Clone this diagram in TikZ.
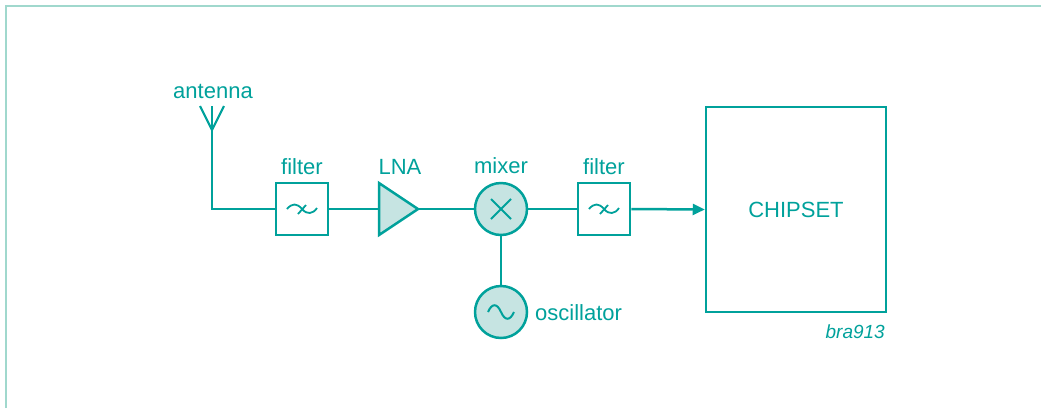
\documentclass[tikz,border=0pt]{standalone}
\usepackage{fontspec}
\setmainfont{Liberation Sans}
\usetikzlibrary{arrows.meta}
\definecolor{tealc}{RGB}{0,161,155}
\definecolor{tealfill}{RGB}{198,228,226}
\definecolor{framec}{RGB}{160,216,205}
\tikzset{
  wire/.style={draw=tealc, line width=2.5pt},
  blockbox/.style={draw=tealc, line width=2.5pt, rectangle, minimum width=52pt, minimum height=52pt, inner sep=0pt, fill=white},
  roundblock/.style={draw=tealc, line width=2.5pt, circle, minimum size=52pt, inner sep=0pt, fill=tealfill},
  glyph/.style={draw=tealc, line width=2pt},
  lbl/.style={text=tealc, font=\fontsize{22}{26}\selectfont, anchor=base, inner sep=0pt},
}
\begin{document}
\begin{tikzpicture}[x=1pt, y=-1pt]
\useasboundingbox (0,0) rectangle (1041,408);
% frame
\draw[framec, line width=1.6pt] (6,408) -- (6,6) -- (1041,6);
% antenna
\coordinate (antapex) at (212,130);
\coordinate (anttop) at (212,106);
\draw[wire, line width=2.2pt, line join=miter] (200,106) -- (antapex) -- (224,106);
\draw[wire, line width=2.2pt] (anttop) -- (antapex);
\node[lbl] (antlbl) at (213,98) {antenna};
% filter 1
\node[blockbox] (f1) at (302,209) {};
\node[lbl] (f1lbl) at (302,174) {filter};
% LNA
\coordinate (lnain) at (379,209);
\coordinate (lnaout) at (418,209);
\draw[wire, fill=tealfill, line join=miter] (379,183) -- (418,209) -- (379,235) -- cycle;
\node[lbl] (lnalbl) at (400,174) {LNA};
% mixer
\node[roundblock] (mix) at (501,209) {};
\node[lbl] (mixlbl) at (501,173) {mixer};
\draw[glyph] ([shift={(-10,-10)}]mix.center) -- ([shift={(10,10)}]mix.center);
\draw[glyph] ([shift={(-10,10)}]mix.center) -- ([shift={(10,-10)}]mix.center);
% oscillator
\node[roundblock] (osc) at (501,312) {};
\node[lbl, anchor=base west] (osclbl) at (535,320) {oscillator};
\draw[glyph] ([shift={(-13,0)}]osc.center) .. controls ([shift={(-9,-9)}]osc.center) and ([shift={(-4,-9)}]osc.center) .. (osc.center)
  .. controls ([shift={(4,9)}]osc.center) and ([shift={(9,9)}]osc.center) .. ([shift={(13,0)}]osc.center);
% filter 2
\node[blockbox] (f2) at (604,209) {};
\node[lbl] (f2lbl) at (604,174) {filter};
% filter glyphs
\foreach \f in {f1,f2}{
  \draw[glyph, line width=1.8pt] ([shift={(-15,0)}]\f.center) .. controls ([shift={(-10,-6)}]\f.center) and ([shift={(-5,-6)}]\f.center) .. ([shift={(0,0)}]\f.center)
    .. controls ([shift={(5,6)}]\f.center) and ([shift={(11,5)}]\f.center) .. ([shift={(15,-1)}]\f.center);
  \draw[glyph, line width=1.8pt] ([shift={(-4,5)}]\f.center) -- ([shift={(4,-4)}]\f.center);
}
% chipset
\node[draw=tealc, line width=2.5pt, rectangle, minimum width=180pt, minimum height=205pt, inner sep=0pt] (chip) at (796,209.5) {};
\node[lbl] (chiplbl) at (796,217) {CHIPSET};
\node[text=tealc, font=\fontsize{19}{22}\selectfont\itshape, anchor=base east, inner sep=0pt] (ref) at (885,338) {bra913};
% connectors
\draw[wire] (antapex) |- (f1.west);
\draw[wire] (f1.east) -- (lnain);
\draw[wire] (lnaout) -- (mix.west);
\draw[wire] (mix.east) -- (f2.west);
\draw[wire] (mix.south) -- (osc.north);
\draw[wire, -{Triangle[length=12pt,width=11pt]}] (f2.east) -- (chip.west);
\end{tikzpicture}
\end{document}
